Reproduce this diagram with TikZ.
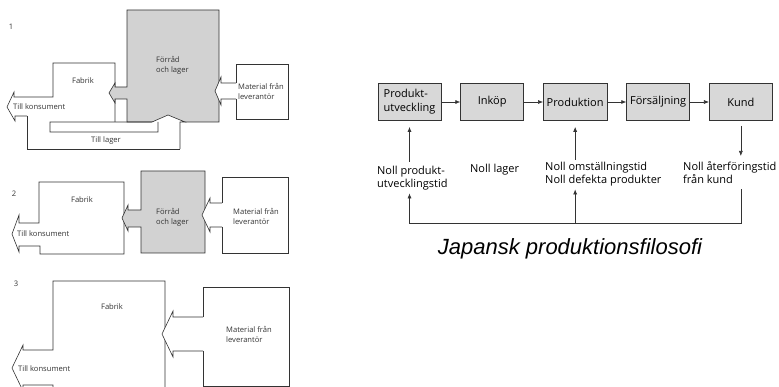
\documentclass[tikz,border=0pt]{standalone}
\usepackage{fontspec}
\setmainfont{Open Sans}
\newfontfamily\titlefont{Liberation Sans}
\usetikzlibrary{arrows.meta, positioning}
\definecolor{lineclr}{HTML}{333333}
\definecolor{store}{HTML}{D2D2D2}
\definecolor{stage}{HTML}{D8D8D8}

\tikzset{
  outline/.style={draw=lineclr, line width=0.6pt, line join=miter},
  lbl/.style={font=\fontsize{7.6}{10}\selectfont, text=lineclr, inner sep=0pt, align=left},
  stagebox/.style={draw=lineclr, fill=stage, line width=0.7pt,
    minimum width=63pt, minimum height=37pt,
    font=\fontsize{11}{14}\selectfont, align=left},
  note/.style={font=\fontsize{11}{13}\selectfont, align=left,
    inner sep=0pt, anchor=north west},
  flow/.style={-{Latex[length=5pt,width=4pt]}, draw=lineclr, line width=0.6pt},
}

\begin{document}
\begin{tikzpicture}[x=1pt, y=-1pt]
\useasboundingbox (0,0) rectangle (779,387);
\clip (0,0) rectangle (779,387);

% 1: stort lager mellan leverantor och fabrik
\node[lbl] (num1) at (11,27) {1};
\draw[outline] (27,116) -- (15,116) -- (15,121) -- (7,107) -- (14,92) -- (14,97)
  -- (53,97) -- (53,63) -- (115,63) -- (115,122);
\filldraw[outline, fill=store] (127,10) -- (219,10) -- (219,122) -- (127,122) -- (127,99)
  -- (115,99) -- (115,103) -- (109,93) -- (115,83) -- (115,87) -- (127,87) -- cycle;
\fill[white] (151,123) -- (168,115) -- (186,123) -- cycle;
\draw[outline] (180,149) -- (180,122) -- (185,122) -- (168,115) -- (152,122)
  -- (50,122) -- (50,132) -- (158,132) -- (158,122);
\draw[outline] (180,149) -- (27,149) -- (27,116);
\draw[outline] (236,83) -- (236,64) -- (288,64) -- (288,119) -- (236,119) -- (236,99);
\filldraw[outline, fill=white] (236,83) -- (221,83) -- (221,77) -- (215,91) -- (221,105)
  -- (221,99) -- (236,99);
\node[lbl] (fabrik1) at (83,81) {Fabrik};
\node[lbl, anchor=west] (lager1) at (156,65.5) {Förråd\\och lager};
\node[lbl, anchor=west] (lev1) at (238,91.5) {Material från\\leverantör};
\node[lbl, anchor=west] (kons1) at (13,107) {Till konsument};
\node[lbl] (tilllager) at (106,141) {Till lager};

% 2: mindre lager
\node[lbl] (num2) at (14,194) {2};
\filldraw[outline, fill=white] (39,223) -- (39,182) -- (124,182) -- (124,254) -- (40,254)
  -- (40,246) -- (19,246) -- (19,252) -- (12,234) -- (19,215) -- (19,223) -- cycle;
\filldraw[outline, fill=store] (141,171) -- (205,171) -- (205,253) -- (141,253) -- (141,227)
  -- (128,227) -- (128,231) -- (122,218) -- (128,205) -- (128,210) -- (141,210) -- cycle;
\draw[outline] (222,203) -- (222,177) -- (288,177) -- (288,253) -- (222,253) -- (222,227);
\filldraw[outline, fill=white] (222,203) -- (210,203) -- (210,198) -- (202,215) -- (210,232)
  -- (210,227) -- (222,227);
\node[lbl] (fabrik2) at (82,200) {Fabrik};
\node[lbl, anchor=west] (lager2) at (156,217) {Förråd\\och lager};
\node[lbl, anchor=west] (lev2) at (233,216.5) {Material från\\leverantör};
\node[lbl, anchor=west] (kons2) at (17,234) {Till konsument};

% 3: inget lager
\node[lbl] (num3) at (16,284) {3};
\filldraw[outline, fill=white] (53,350) -- (53,281) -- (165,281) -- (165,395) -- (53,395)
  -- (53,385) -- (23,385) -- (23,391) -- (12,368) -- (23,345) -- (23,350) -- cycle;
\draw[outline] (203,317) -- (203,287) -- (289,287) -- (289,386) -- (203,386) -- (203,351);
\filldraw[outline, fill=white] (203,317) -- (173,317) -- (173,311) -- (162,334) -- (173,357)
  -- (173,351) -- (203,351);
\node[lbl] (fabrik3) at (112,307) {Fabrik};
\node[lbl, anchor=west] (lev3) at (226,334.5) {Material från\\leverantör};
\node[lbl, anchor=west] (kons3) at (18,369) {Till konsument};

% japansk kedja
\node[stagebox] (produtv) at (409.5,102) {Produkt-\\utveckling};
\node[stagebox, right=19pt of produtv] (inkop) {Inköp};
\node[stagebox, right=19pt of inkop] (prod) {Produktion};
\node[stagebox, right=19pt of prod] (salj) {Försäljning};
\node[stagebox, right=19pt of salj] (kund) {Kund};
\draw[flow] (produtv) -- (inkop);
\draw[flow] (inkop) -- (prod);
\draw[flow] (prod) -- (salj);
\draw[flow] (salj) -- (kund);

\node[note] (nprodutv) at (377,166) {Noll produkt-\\utvecklingstid};
\node[note] (nlager) at (470,164) {Noll lager};
\node[note] (nprod) at (545,162) {Noll omställningstid\\Noll defekta produkter};
\node[note] (nkund) at (683,161) {Noll återföringstid\\från kund};

\draw[flow, shorten >=6pt] ([yshift=4pt]nprodutv.north -| produtv) -- (produtv.south);
\draw[flow, shorten >=6pt] ([yshift=2pt]nprod.north -| prod) -- (prod.south);
\draw[flow, shorten <=5pt] (kund.south) -- ([yshift=5pt]nkund.north -| kund);
\coordinate (loop) at (575,223);
\draw[flow] ([yshift=-6pt]nkund.south -| kund) -- (kund |- loop) -- (produtv |- loop)
  -- ([yshift=-3pt]nprodutv.south -| produtv);
\draw[flow] (prod |- loop) -- ([yshift=-3pt]nprod.south -| prod);

\node[font=\titlefont\itshape\fontsize{22}{26}\selectfont] (title) at (570,249)
  {Japansk produktionsfilosofi};
\end{tikzpicture}
\end{document}
